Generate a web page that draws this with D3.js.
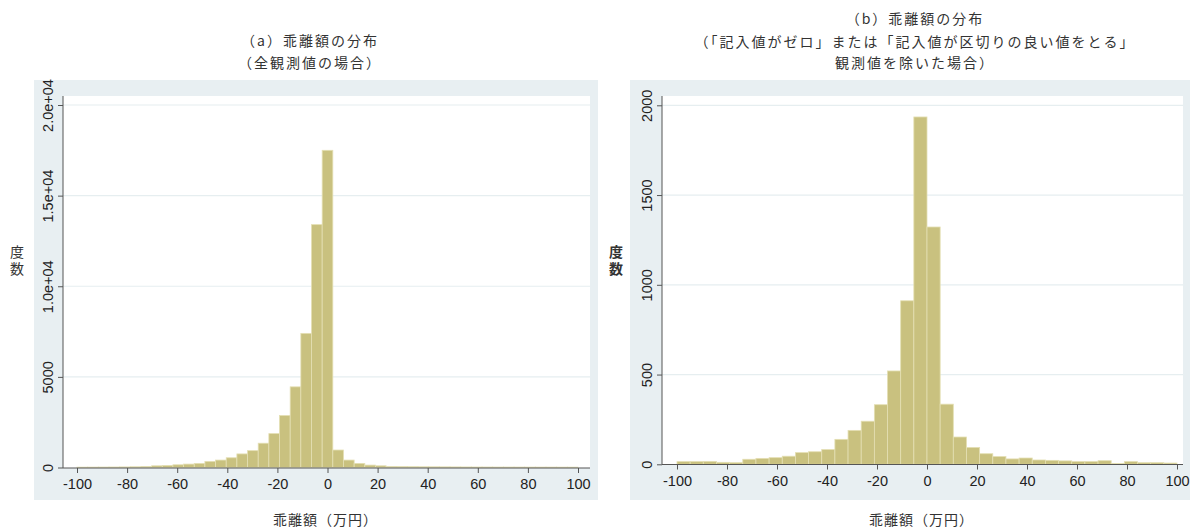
<!DOCTYPE html>
<html>
<head>
<meta charset="utf-8">
<script src="https://cdn.jsdelivr.net/npm/d3@7/dist/d3.min.js"></script>
<style>
  body { margin: 0; background: #ffffff; }
  svg { display: block; }
</style>
</head>
<body>
<svg id="chart" width="1192" height="528"></svg>
<script>
// Histogram counts per bin, bins spanning -100..100 (万円)
const countsA = [20, 22, 25, 28, 32, 40, 61, 94, 116, 150, 188, 227, 338, 410, 537, 750, 930, 1340, 1870, 2870, 4450, 7400, 13400, 17500,
                 964, 410, 227, 133, 94, 60, 50, 45, 40, 38, 35, 32, 30, 28, 27, 25, 25, 24, 23, 22, 22, 21, 20];
const countsB = [15, 15, 16, 11, 9, 28, 33, 37, 45, 65, 70, 82, 139, 189, 240, 332, 520, 911, 1935,
                 1322, 335, 152, 94, 59, 43, 30, 35, 24, 22, 19, 15, 15, 20, 4, 15, 9, 9, 7];
const binRange = [-100, 100];

const xTickValues = [-100, -80, -60, -40, -20, 0, 20, 40, 60, 80, 100];
const yTickValuesA = [0, 5000, 10000, 15000, 20000];
const yTickLabelsA = ["0", "5000", "1.0e+04", "1.5e+04", "2.0e+04"];
const yTickValuesB = [0, 500, 1000, 1500, 2000];
const yTickLabelsB = ["0", "500", "1000", "1500", "2000"];

const titleLinesA = ["（a）乖離額の分布", "（全観測値の場合）"];
const titleLinesB = ["（b）乖離額の分布", "（「記入値がゼロ」または「記入値が区切りの良い値をとる」", "観測値を除いた場合）"];
const xAxisTitle = "乖離額（万円）";
const yAxisTitle = "度数";

const svg = d3.select("#chart");

const COLORS = {
  region: "#e8eff2",
  plot: "#ffffff",
  grid: "#e6eef0",
  bar: "#c9c17f",
  barEdge: "#e4dfb3",
  axis: "#555555",
  text: "#222222",
  title: "#333333"
};
const tickFont = "'Liberation Sans', Arial, sans-serif";
const cjkFont = "'Noto Sans CJK JP', 'Noto Sans', sans-serif";

function drawPanel(cfg) {
  const g = svg.append("g");

  // outer graph region and inner plot region
  g.append("rect")
    .attr("x", cfg.region[0]).attr("y", cfg.region[1])
    .attr("width", cfg.region[2]).attr("height", cfg.region[3])
    .attr("fill", COLORS.region);
  g.append("rect")
    .attr("x", cfg.plot.x0).attr("y", cfg.plot.y0)
    .attr("width", cfg.plot.x1 - cfg.plot.x0).attr("height", cfg.plot.y1 - cfg.plot.y0)
    .attr("fill", COLORS.plot);

  const x = d3.scaleLinear().domain(binRange).range(cfg.xPx);
  const y = d3.scaleLinear().domain([0, cfg.yTop]).range(cfg.yPx);

  // horizontal gridlines
  g.append("g").selectAll("line")
    .data(cfg.yTicks.filter(v => v > 0))
    .join("line")
    .attr("x1", cfg.plot.x0).attr("x2", cfg.plot.x1)
    .attr("y1", d => y(d)).attr("y2", d => y(d))
    .attr("stroke", COLORS.grid).attr("stroke-width", 1.2);

  // histogram bars
  const width = (binRange[1] - binRange[0]) / cfg.counts.length;
  g.append("g").selectAll("rect")
    .data(cfg.counts.map((c, i) => ({ lo: binRange[0] + i * width, hi: binRange[0] + (i + 1) * width, c })))
    .join("rect")
    .attr("x", d => x(d.lo))
    .attr("width", d => x(d.hi) - x(d.lo))
    .attr("y", d => y(d.c))
    .attr("height", d => y(0) - y(d.c))
    .attr("fill", COLORS.bar)
    .attr("stroke", COLORS.barEdge)
    .attr("stroke-width", 0.8);

  // x axis (plain hyphen-minus in labels)
  const xAxis = g.append("g")
    .attr("transform", `translate(0,${cfg.plot.y1})`)
    .call(d3.axisBottom(x).tickValues(xTickValues).tickFormat(d => String(d))
      .tickSize(5).tickSizeOuter(0).tickPadding(6));
  xAxis.select(".domain").remove();
  xAxis.selectAll(".tick line").attr("stroke", COLORS.axis);
  xAxis.selectAll("text")
    .attr("font-family", tickFont).attr("font-size", 14.5).attr("fill", COLORS.text);
  g.append("line")
    .attr("x1", cfg.plot.x0).attr("x2", cfg.plot.x1)
    .attr("y1", cfg.plot.y1).attr("y2", cfg.plot.y1)
    .attr("stroke", COLORS.axis).attr("stroke-width", 1);

  // y axis with vertical labels
  const yAxis = g.append("g")
    .attr("transform", `translate(${cfg.plot.x0},0)`)
    .call(d3.axisLeft(y).tickValues(cfg.yTicks).tickFormat((d, i) => cfg.yLabels[i]).tickSize(5).tickSizeOuter(0));
  yAxis.select(".domain").remove();
  yAxis.selectAll(".tick line").attr("stroke", COLORS.axis);
  yAxis.selectAll("text")
    .attr("transform", "rotate(-90)")
    .attr("x", 0).attr("y", -10).attr("dy", 0)
    .attr("text-anchor", "middle")
    .attr("font-family", tickFont).attr("font-size", 14.5).attr("fill", COLORS.text);
  g.append("line")
    .attr("x1", cfg.plot.x0).attr("x2", cfg.plot.x0)
    .attr("y1", cfg.plot.y0).attr("y2", cfg.plot.y1)
    .attr("stroke", COLORS.axis).attr("stroke-width", 1);

  // titles
  g.append("g").selectAll("text")
    .data(cfg.titles)
    .join("text")
    .attr("x", cfg.titleX)
    .attr("y", (d, i) => cfg.titleY[i])
    .attr("text-anchor", "middle")
    .attr("dominant-baseline", "central")
    .attr("font-family", cjkFont).attr("font-size", 14)
    .attr("letter-spacing", 2)
    .attr("fill", COLORS.title)
    .text(d => d);

  // axis titles
  g.append("text")
    .attr("x", (cfg.plot.x0 + cfg.plot.x1) / 2 - 1)
    .attr("y", 519)
    .attr("text-anchor", "middle").attr("dominant-baseline", "central")
    .attr("font-family", cjkFont).attr("font-size", 14).attr("letter-spacing", 1)
    .attr("fill", COLORS.title)
    .text(xAxisTitle);
  // vertical (stacked) y title
  g.append("text")
    .attr("x", cfg.yTitleX)
    .attr("y", 262)
    .attr("writing-mode", "vertical-rl")
    .attr("text-anchor", "middle")
    .attr("font-family", cjkFont).attr("font-size", 14)
    .attr("letter-spacing", 3)
    .attr("font-weight", cfg.yTitleWeight)
    .attr("fill", COLORS.title)
    .text(yAxisTitle);
}

drawPanel({
  counts: countsA,
  region: [34, 80, 564, 420],
  plot: { x0: 63, x1: 590, y0: 96, y1: 468 },
  xPx: [77, 578],
  yTop: 20000, yPx: [467.5, 105],
  yTicks: yTickValuesA, yLabels: yTickLabelsA,
  titles: titleLinesA, titleX: 310, titleY: [40, 62],
  yTitleX: 17, yTitleWeight: 400
});

drawPanel({
  counts: countsB,
  region: [630, 80, 560, 420],
  plot: { x0: 662, x1: 1183, y0: 96, y1: 464.5 },
  xPx: [677, 1177],
  yTop: 2000, yPx: [464.3, 105.3],
  yTicks: yTickValuesB, yLabels: yTickLabelsB,
  titles: titleLinesB, titleX: 915, titleY: [18, 41, 62],
  yTitleX: 616, yTitleWeight: 700
});
</script>
</body>
</html>
